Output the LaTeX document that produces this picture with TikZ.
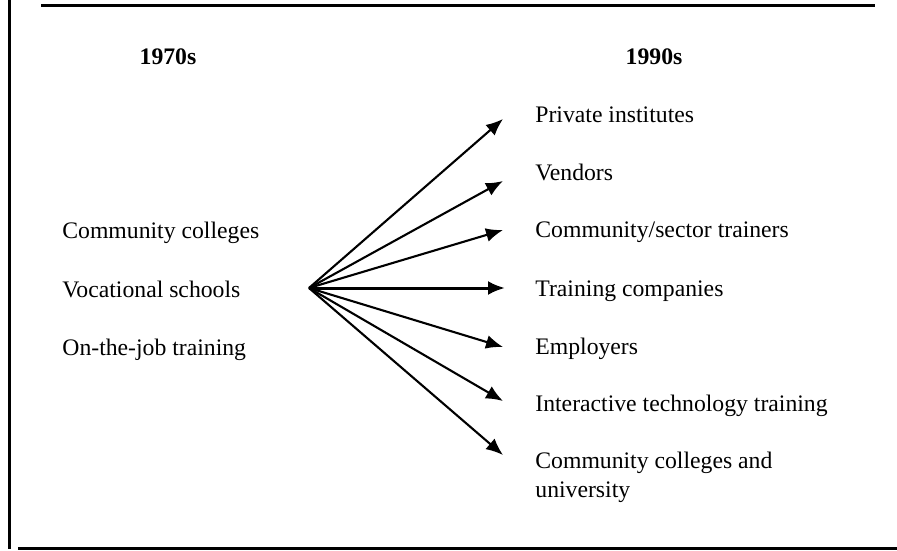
\documentclass[tikz,border=0pt]{standalone}
\usepackage{fontspec}
\setmainfont{Liberation Serif}
\usetikzlibrary{arrows.meta}
\begin{document}
\begin{tikzpicture}[x=0.5pt,y=-0.5pt,
  lbl/.style={anchor=base west,inner sep=0pt,font=\fontsize{11.85}{14.5}\selectfont},
  head/.style={anchor=base,inner sep=0pt,font=\fontsize{11.85}{14.5}\selectfont\bfseries},
  rule/.style={line width=1.5pt},
  arr/.style={line width=1.05pt,-{Latex[length=8.5pt,width=7pt]}}]
\useasboundingbox (0,0) rectangle (897,550);
% frame lines
\draw[rule] (41,6) -- (875,6);
\draw[rule] (9.5,0) -- (9.5,548.5);
\draw[rule] (18,548.5) -- (897,548.5);
% headings
\node[head] (h70) at (168,65) {1970s};
\node[head] (h90) at (654,65) {1990s};
% left column
\node[lbl] (l1) at (62,239) {Community colleges};
\node[lbl] (l2) at (62,297) {Vocational schools};
\node[lbl] (l3) at (62,355) {On-the-job training};
% right column
\node[lbl] (r1) at (535,123) {Private institutes};
\node[lbl] (r2) at (535,181) {Vendors};
\node[lbl] (r3) at (535,238) {Community/sector trainers};
\node[lbl] (r4) at (535,296) {Training companies};
\node[lbl] (r5) at (535,354) {Employers};
\node[lbl] (r6) at (535,411) {Interactive technology training};
\node[lbl,align=left] (r7) at (535,497) {Community colleges and\\university};
% fan of arrows
\coordinate (o) at (309,288);
\coordinate (t1) at (503,119);
\coordinate (t2) at (503,181);
\coordinate (t3) at (503,230);
\coordinate (t4) at (505,288);
\coordinate (t5) at (503,347);
\coordinate (t6) at (503,401);
\coordinate (t7) at (503,455);
\foreach \i in {1,2,3,5,6,7} \draw[arr] (o) -- (t\i);
\draw[arr,line width=1.5pt] (o) -- (t4);
\end{tikzpicture}
\end{document}
